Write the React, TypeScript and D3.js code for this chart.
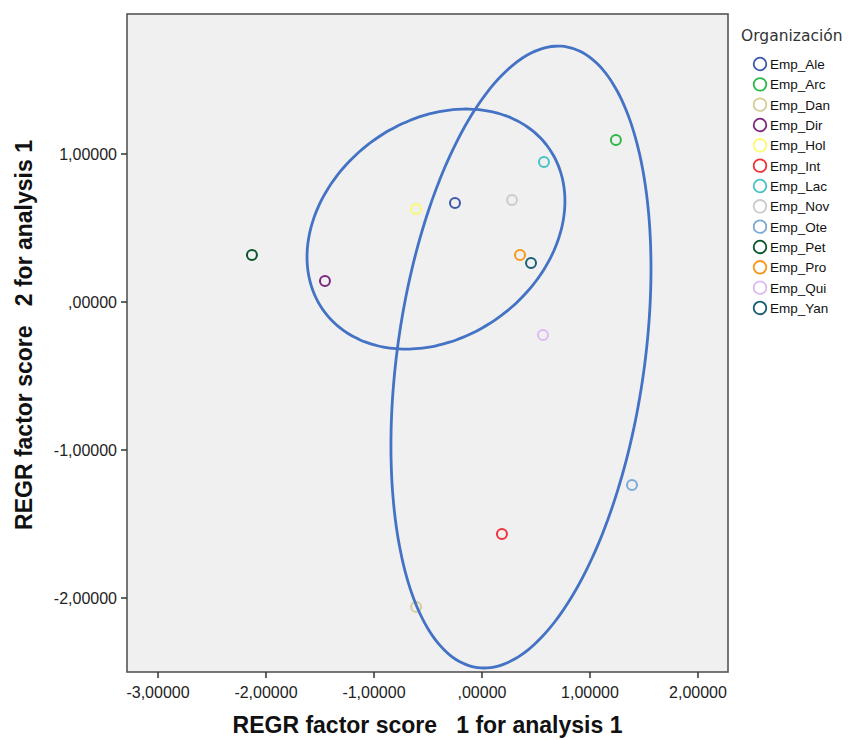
import * as d3 from "d3";
import { useRef, useEffect } from "react";

// data
const orgNames = ["Emp_Ale", "Emp_Arc", "Emp_Dan", "Emp_Dir", "Emp_Hol", "Emp_Int", "Emp_Lac", "Emp_Nov", "Emp_Ote", "Emp_Pet", "Emp_Pro", "Emp_Qui", "Emp_Yan"];
const factor1 = [-0.25, 1.24, -0.61, -1.454, -0.611, 0.185, 0.574, 0.278, 1.389, -2.13, 0.352, 0.565, 0.454];
const factor2 = [0.669, 1.095, -2.06, 0.142, 0.628, -1.568, 0.946, 0.689, -1.236, 0.318, 0.318, -0.223, 0.264];
const orgColors = ["#3E58AC", "#2EB848", "#D3CE97", "#7C287D", "#FBF873", "#EF3338", "#48C2C5", "#CCCCCC", "#7AAAD5", "#0A562C", "#F8981D", "#DDBAF1", "#1A5F76"];

const xTicks = [-3, -2, -1, 0, 1, 2];
const yTicks = [-2, -1, 0, 1];

// hand drawn groupings: centre, half extents, tilt (correlation)
const ellipseCx = [-0.426, 0.361];
const ellipseCy = [0.493, -0.372];
const ellipseRx = [1.194, 1.204];
const ellipseRy = [0.811, 2.101];
const ellipseRho = [0.233, 0.285];

const W = 864;
const H = 740;
const left = 127, right = 728, top = 14, bottom = 672;

function fmt(v: number) {
  // spss style: comma decimal, no leading zero
  let s = Math.abs(v).toFixed(5).replace(".", ",");
  if (s.startsWith("0,")) s = s.slice(1);
  return (v < 0 ? "-" : "") + s;
}

export default function App() {
  const svgRef = useRef<SVGSVGElement>(null);

  useEffect(() => {
    const svg = d3.select(svgRef.current);
    svg.selectAll("*").remove();

    const x = d3.scaleLinear().domain([-3.287, 2.278]).range([left, right]);
    const y = d3.scaleLinear().domain([-2.5, 1.946]).range([bottom, top]);

    svg.append("rect").attr("width", W).attr("height", H).attr("fill", "#fff");

    // plot background + frame
    svg
      .append("rect")
      .attr("x", left)
      .attr("y", top)
      .attr("width", right - left)
      .attr("height", bottom - top)
      .attr("fill", "#F0F0F0")
      .attr("stroke", "#555")
      .attr("stroke-width", 1.6);

    // x axis
    const xg = svg.append("g");
    xg.selectAll("line")
      .data(xTicks)
      .enter()
      .append("line")
      .attr("x1", (d) => x(d))
      .attr("x2", (d) => x(d))
      .attr("y1", bottom)
      .attr("y2", bottom + 6)
      .attr("stroke", "#333")
      .attr("stroke-width", 1.5);
    xg.selectAll("text")
      .data(xTicks)
      .enter()
      .append("text")
      .attr("x", (d) => x(d))
      .attr("y", bottom + 26)
      .attr("text-anchor", "middle")
      .style("font-family", "Liberation Sans, Arial, sans-serif")
      .style("font-size", "16px")
      .attr("fill", "#222")
      .text((d) => fmt(d));

    // y axis
    const yg = svg.append("g");
    yg.selectAll("line")
      .data(yTicks)
      .enter()
      .append("line")
      .attr("x1", left - 6)
      .attr("x2", left)
      .attr("y1", (d) => y(d))
      .attr("y2", (d) => y(d))
      .attr("stroke", "#333")
      .attr("stroke-width", 1.5);
    yg.selectAll("text")
      .data(yTicks)
      .enter()
      .append("text")
      .attr("x", left - 10)
      .attr("y", (d) => y(d) + 6)
      .attr("text-anchor", "end")
      .style("font-family", "Liberation Sans, Arial, sans-serif")
      .style("font-size", "16px")
      .attr("fill", "#222")
      .text((d) => fmt(d));

    // axis titles (keep the double spaces)
    svg
      .append("text")
      .attr("x", (left + right) / 2)
      .attr("y", 733)
      .attr("text-anchor", "middle")
      .style("white-space", "pre")
      .style("font-family", "Liberation Sans, Arial, sans-serif")
      .style("font-weight", "bold")
      .style("font-size", "23px")
      .attr("fill", "#111")
      .text("REGR factor score   1 for analysis 1");
    svg
      .append("text")
      .attr("transform", `translate(32,${335}) rotate(-90)`)
      .attr("text-anchor", "middle")
      .style("white-space", "pre")
      .style("font-family", "Liberation Sans, Arial, sans-serif")
      .style("font-weight", "bold")
      .style("font-size", "23px")
      .attr("fill", "#111")
      .text("REGR factor score   2 for analysis 1");

    // points
    svg
      .append("g")
      .selectAll("circle")
      .data(orgNames)
      .enter()
      .append("circle")
      .attr("cx", (d, i) => x(factor1[i]))
      .attr("cy", (d, i) => y(factor2[i]))
      .attr("r", 5)
      .attr("fill", "none")
      .attr("stroke", (d, i) => orgColors[i])
      .attr("stroke-width", 2);

    // ellipses
    const angles = d3.range(0, 360, 3).map((a) => (a * Math.PI) / 180);
    ellipseCx.forEach((cx, k) => {
      const rho = ellipseRho[k];
      const pts: [number, number][] = angles.map((t) => [
        x(cx + ellipseRx[k] * Math.cos(t)),
        y(ellipseCy[k] + ellipseRy[k] * (rho * Math.cos(t) + Math.sqrt(1 - rho * rho) * Math.sin(t))),
      ]);
      svg
        .append("path")
        .attr("d", d3.line().curve(d3.curveCardinalClosed)(pts))
        .attr("fill", "none")
        .attr("stroke", "#4472C4")
        .attr("stroke-width", 2.8);
    });

    // legend
    const lg = svg.append("g");
    lg.append("text")
      .attr("x", 741)
      .attr("y", 41)
      .style("font-family", "DejaVu Sans, sans-serif")
      .style("font-size", "15.5px")
      .attr("fill", "#333")
      .text("Organización");
    const item = lg
      .selectAll("g")
      .data(orgNames)
      .enter()
      .append("g")
      .attr("transform", (d, i) => `translate(0,${64 + i * 20.33})`);
    item
      .append("circle")
      .attr("cx", 760)
      .attr("cy", 0)
      .attr("r", 6.3)
      .attr("fill", "none")
      .attr("stroke", (d, i) => orgColors[i])
      .attr("stroke-width", 1.8);
    item
      .append("text")
      .attr("x", 770)
      .attr("y", 5)
      .style("font-family", "Liberation Sans, Arial, sans-serif")
      .style("font-size", "13.5px")
      .attr("fill", "#111")
      .text((d) => d);
  }, []);

  return (
    <svg
      ref={svgRef}
      width={W}
      height={H}
      style={{ position: "absolute", left: 0, top: 0 }}
    ></svg>
  );
}
